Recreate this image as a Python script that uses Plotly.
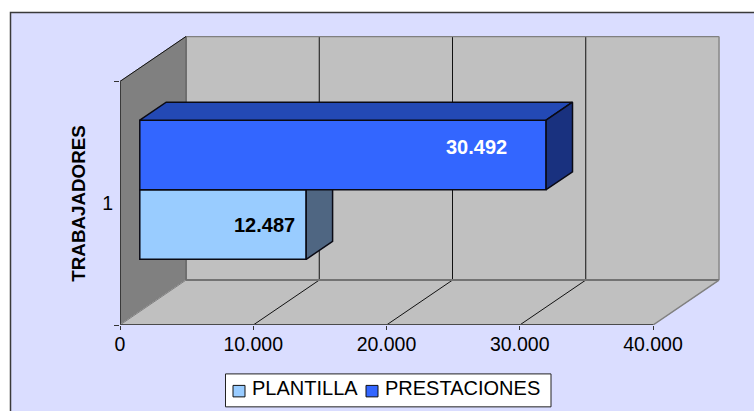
import plotly.graph_objects as go

categories = ["1"]
series_names = ["PLANTILLA", "PRESTACIONES"]
plantilla = [12487]
prestaciones = [30492]
value_ticks = [0, 10000, 20000, 30000, 40000]
value_tick_labels = ["0", "10.000", "20.000", "30.000", "40.000"]
axis_title = "TRABAJADORES"

W, H = 754, 411
L, R, T, B = 120, 34, 36, 85.5
PW, PH = W - L - R, H - T - B
KX = 533 / 40000          # px per value
KY = 244                  # px per category slot
XMAX, YMAX = PW / KX, PH / KY
DX, DY = 66 / KX, 45 / KY  # 3D depth shift in axis units
GAP = 1.5
BAR_H = 1 / (2 + GAP)
Y0 = GAP / 2 * BAR_H
Z0, Z1 = 0.3, 0.7         # bar depth span
FRONT = {"PLANTILLA": "#99CCFF", "PRESTACIONES": "#3366FF"}
TOP = {"PRESTACIONES": "#2349B5"}
SIDE = {"PLANTILLA": "#4F6682", "PRESTACIONES": "#19317F"}
EDGE = "#0A0A14"


def P(v, y, z=0.0):
    return v + z * DX, y + z * DY


def poly_path(pts):
    return "M" + " L".join(f"{x},{y}" for x, y in pts) + " Z"


shapes = []
px = lambda p: (p - L) / PW
py = lambda p: 1 - (p - T) / PH
# chart frame
shapes.append(dict(type="rect", xref="paper", yref="paper", x0=px(10.5), x1=px(770), y0=py(12.5), y1=py(420),
                   fillcolor="#DADDFF", line=dict(color="#3A3A3A", width=1.5), layer="below"))


def wall(pts, fill, line=None, w=1):
    shapes.append(dict(type="path", path=poly_path(pts), xref="x", yref="y", fillcolor=fill,
                       line=dict(color=line or fill, width=w), layer="below"))


def seg(a, b, color, w=1):
    shapes.append(dict(type="line", xref="x", yref="y", x0=a[0], y0=a[1], x1=b[0], y1=b[1],
                       line=dict(color=color, width=w), layer="below"))


VMAX = value_ticks[-1]
wall([P(0, 0, 1), P(VMAX, 0, 1), P(VMAX, 1, 1), P(0, 1, 1)], "#C0C0C0")
wall([P(0, 0), P(0, 0, 1), P(0, 1, 1), P(0, 1)], "#808080")
wall([P(0, 0), P(VMAX, 0), P(VMAX, 0, 1), P(0, 0, 1)], "#C0C0C0")
for v in value_ticks[1:-1]:
    seg(P(v, 0, 1), P(v, 1, 1), "#111111", 1)
    seg(P(v, 0), P(v, 0, 1), "#111111", 1)
seg(P(0, 1, 1), P(VMAX, 1, 1), "#808080", 1.5)
seg(P(VMAX, 1, 1), P(VMAX, 0, 1), "#8A8A8A", 1.5)
seg(P(0, 0, 1), P(VMAX, 0, 1), "#737373", 2)
seg(P(0, 0, 1), P(0, 1, 1), "#6E6E6E", 2)
seg(P(0, 0), P(0, 0, 1), "#808080", 1)
seg(P(VMAX, 0), P(VMAX, 0, 1), "#808080", 1.5)
seg(P(0, 1), P(0, 1, 1), "#111111", 1)
seg(P(0, 0), P(0, 1), "#3A3A3A", 2)
seg(P(0, 0), P(VMAX, 0), "#4A4A4A", 2)

fig = go.Figure()
y_plant = Y0
y_prest = Y0 + BAR_H
base_x, base_off = P(0, 0, Z0)

for name, vals, y in [(series_names[0], plantilla, y_plant), (series_names[1], prestaciones, y_prest)]:
    fig.add_trace(go.Bar(
        name=name, orientation="h", x=vals, y=[y + BAR_H / 2 + base_off], base=[base_x], width=[BAR_H],
        marker=dict(color=FRONT[name], line=dict(color=EDGE, width=1.5)),
        hoverinfo="skip", showlegend=False))


def face(pts, color):
    xs = [p[0] for p in pts] + [pts[0][0]]
    ys = [p[1] for p in pts] + [pts[0][1]]
    fig.add_trace(go.Scatter(x=xs, y=ys, mode="lines", fill="toself", fillcolor=color,
                             line=dict(color=EDGE, width=1.5), showlegend=False, hoverinfo="skip",
                             cliponaxis=False))


v = plantilla[0]
# side face of the lower bar, hidden above by the front of the upper bar
a = P(v, y_plant, Z0); b = P(v, y_plant + BAR_H, Z0); d = P(v, y_plant, Z1)
face([a, b, (d[0], b[1]), d], SIDE["PLANTILLA"])
v = prestaciones[0]
a = P(0, y_prest + BAR_H, Z0); b = P(v, y_prest + BAR_H, Z0)
face([a, b, P(v, y_prest + BAR_H, Z1), P(0, y_prest + BAR_H, Z1)], TOP["PRESTACIONES"])
face([P(v, y_prest, Z0), b, P(v, y_prest + BAR_H, Z1), P(v, y_prest, Z1)], SIDE["PRESTACIONES"])

fmt = lambda n: f"{n:,.0f}".replace(",", ".")
ann = [
    dict(x=plantilla[0] + base_x, y=y_plant + BAR_H / 2 + base_off, xref="x", yref="y", text=f"<b>{fmt(plantilla[0])}</b>",
         showarrow=False, xanchor="right", xshift=-9, font=dict(size=20, color="#000000")),
    dict(x=prestaciones[0] + base_x, y=y_prest + BAR_H / 2 + base_off, xref="x", yref="y", text=f"<b>{fmt(prestaciones[0])}</b>",
         showarrow=False, xanchor="right", xshift=-37, yshift=8, font=dict(size=20, color="#FFFFFF")),
    dict(x=px(78.5), y=0.5, xref="paper", yref="y", xanchor="center", yanchor="middle",
         text=f"<b>{axis_title}</b>", textangle=-90, showarrow=False,
         font=dict(size=18.8, color="#000000")),
]

# legend box
shapes.append(dict(type="rect", xref="paper", yref="paper", x0=px(225.5), x1=px(551), y0=py(374.5), y1=py(407.5),
                   fillcolor="#FFFFFF", line=dict(color="#222222", width=1), layer="below"))
for name, x0, tx in [(series_names[0], 233, 251), (series_names[1], 366, 384)]:
    shapes.append(dict(type="rect", xref="paper", yref="paper", x0=px(x0), x1=px(x0 + 12), y0=py(386), y1=py(397.5),
                       fillcolor=FRONT[name], line=dict(color="#111111", width=1), layer="below"))
    ann.append(dict(x=px(tx), y=py(389), xref="paper", yref="paper", text=name, showarrow=False,
                    xanchor="left", yanchor="middle", xshift=-1, font=dict(size=20, color="#000000")))

fig.update_layout(
    width=W, height=H, margin=dict(l=L, r=R, t=T, b=B, autoexpand=False),
    paper_bgcolor="#FFFFFF", plot_bgcolor="rgba(0,0,0,0)",
    barmode="overlay", shapes=shapes, annotations=ann, showlegend=False,
    font=dict(family="Liberation Sans", color="#000000", size=19),
    xaxis=dict(range=[0, XMAX], tickvals=value_ticks, ticktext=value_tick_labels, showgrid=False, zeroline=False,
               showline=False, ticks="outside", ticklen=4, tickcolor="#333333", tickfont=dict(size=19.5),
               ticklabelstandoff=-2),
    yaxis=dict(range=[0, YMAX], tickvals=[0.5], ticktext=categories, showgrid=False, zeroline=False, showline=False,
               ticks="", tickfont=dict(size=19.5), ticklabelstandoff=6,
               minor=dict(tickvals=[0, 1], ticks="outside", ticklen=5, tickcolor="#333333")),
)
fig.write_html("out.html", config={"displayModeBar": False},
               post_script="document.body.style.margin='0';document.body.style.overflow='hidden';")
